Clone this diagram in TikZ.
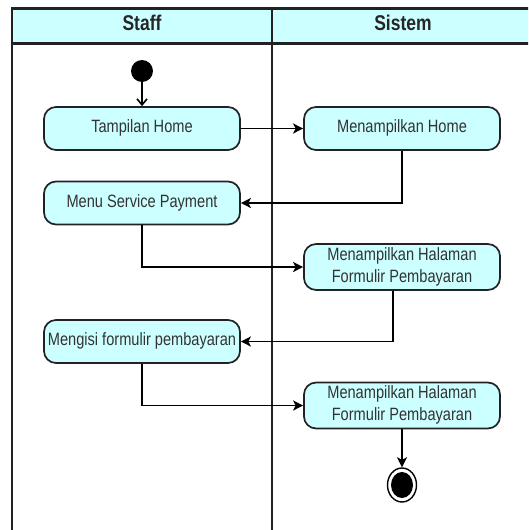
\documentclass[tikz,border=0pt]{standalone}
\usepackage{fontspec}
\setmainfont{Liberation Sans}
\usetikzlibrary{arrows.meta,shapes.geometric}
\definecolor{lane}{HTML}{CCFFFF}
\definecolor{ink}{HTML}{222222}
\newcommand{\vt}[1]{\scalebox{1}[1.22]{\begin{tabular}{@{}c@{}}#1\end{tabular}}}
\begin{document}
\begin{tikzpicture}[x=1pt,y=-1pt,
  act/.style={draw=ink, line width=1.7pt, fill=lane, rounded corners=12pt,
    minimum width=196pt, minimum height=43pt, inner sep=1pt,
    font=\fontsize{14.6}{18}\selectfont, text=black!80},
  flow/.style={draw=black, line width=1.8pt, -{Stealth[length=10pt,width=10pt,inset=2.5pt]}},
  initflow/.style={draw=black, line width=1.6pt, -{Straight Barb[length=6pt,width=10pt]}},
  lanehead/.style={font=\fontsize{17.5}{20}\selectfont\bfseries, text=black!85},
  frame/.style={draw=ink, line width=2.2pt}]
\useasboundingbox (0,0) rectangle (528,530);
\begin{scope}
\clip (0,0) rectangle (528,530);
\fill[lane] (12,8.5) rectangle (540,43.5);
\fill[white] (12,43.5) rectangle (540,540);
\draw[frame] (12,8.5) rectangle (540,540);
\draw[frame] (12,43.5) -- (540,43.5);
\draw[frame] (272,8.5) -- (272,540);
\end{scope}
\node[lanehead] (h1) at (142,26) {\vt{Staff}};
\node[lanehead] (h2) at (403,26) {\vt{Sistem}};

\node[circle, fill=black, minimum size=22pt, inner sep=0pt] (init) at (142,71) {};
\node[act] (a1) at (142,128.5) {\vt{Tampilan Home}};
\node[act] (s1) at (402,128.5) {\vt{Menampilkan Home}};
\node[act] (a2) at (142,203) {\vt{Menu Service Payment}};
\node[act] (s2) at (402,267) {\vt{Menampilkan Halaman\\Formulir Pembayaran}};
\node[act] (a3) at (142,341.5) {\vt{Mengisi formulir pembayaran}};
\node[act] (s3) at (402,405.5) {\vt{Menampilkan Halaman\\Formulir Pembayaran}};
\node[ellipse, draw=black, line width=1.4pt, fill=white, minimum width=29pt, minimum height=34pt, inner sep=0pt] (fin) at (402,485) {};
\fill[black] (fin.center) ellipse [x radius=11pt, y radius=13pt];

\draw[initflow] (init) -- (a1);
\draw[flow] (a1) -- (s1);
\draw[flow] (s1.south) |- (a2);
\draw[flow] (a2.south) |- (s2);
\draw[flow] ([xshift=-9pt]s2.south) |- (a3);
\draw[flow] (a3.south) |- (s3);
\draw[flow] (s3.south) -- (fin);
\end{tikzpicture}
\end{document}
